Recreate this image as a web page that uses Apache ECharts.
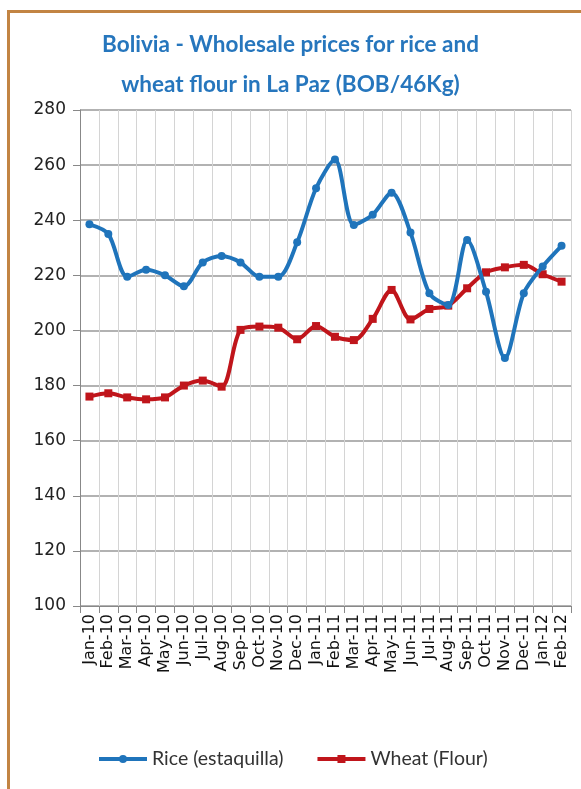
<!DOCTYPE html>
<html>
<head>
<meta charset="utf-8">
<script src="https://cdn.jsdelivr.net/npm/echarts@6/dist/echarts.min.js"></script>
<style>
html, body { margin: 0; padding: 0; background: #fff; }
#frame {
  position: absolute; left: 7px; top: 10px; width: 700px; height: 900px;
  border-left: 3px solid #c28443; border-top: 3px solid #c28443;
}
#main { position: absolute; left: 0; top: 0; width: 581px; height: 789px; }
</style>
</head>
<body>
<div id="frame"></div>
<div id="main"></div>
<script>
var months = ["Jan-10", "Feb-10", "Mar-10", "Apr-10", "May-10", "Jun-10", "Jul-10", "Aug-10", "Sep-10",
  "Oct-10", "Nov-10", "Dec-10", "Jan-11", "Feb-11", "Mar-11", "Apr-11", "May-11", "Jun-11", "Jul-11",
  "Aug-11", "Sep-11", "Oct-11", "Nov-11", "Dec-11", "Jan-12", "Feb-12"];
// rice (estaquilla), BOB/46Kg
var rice = [238.5, 235, 219.5, 222, 220, 216, 224.7, 227, 224.7, 219.5, 219.5, 232, 251.6, 262,
  238.3, 242, 250, 235.5, 213.5, 209.2, 232.8, 214, 190, 213.5, 223.2, 230.7];
// wheat flour
var wheat = [176, 177.2, 175.7, 175, 175.7, 180, 181.8, 179.6, 200.2, 201.4, 201, 196.8, 201.6,
  197.7, 196.5, 204.2, 214.7, 204, 207.8, 209, 215.3, 221.1, 222.9, 223.8, 220.4, 217.7];

var chart = echarts.init(document.getElementById("main"));
chart.setOption({
  animation: false,
  title: {
    text: "Bolivia - Wholesale prices for rice and\nwheat flour in La Paz (BOB/46Kg)",
    left: "center",
    top: 20,
    textStyle: {
      color: "#2676bd", fontSize: 22.5, fontWeight: "bold", fontFamily: "Lato",
      lineHeight: 40
    }
  },
  legend: {
    bottom: 15,
    left: 92,
    itemGap: 32,
    itemWidth: 48,
    itemHeight: 10,
    textStyle: { fontSize: 19.5, color: "#333", fontFamily: "Lato" },
    lineStyle: { width: 4 },
    data: ["Rice (estaquilla)", "Wheat (Flour)"]
  },
  grid: { left: 80, right: 10, top: 110, bottom: 183 },
  xAxis: {
    type: "category",
    data: months,
    boundaryGap: true,
    axisLine: { lineStyle: { color: "#888" } },
    axisTick: { show: true, length: 7, lineStyle: { color: "#888" } },
    axisLabel: { interval: 0, rotate: 90, fontSize: 16, color: "#111", fontFamily: "DejaVu Sans", margin: 8 },
    splitLine: { show: true, interval: 0, lineStyle: { color: "#d4d4d4" } }
  },
  yAxis: {
    type: "value",
    min: 100, max: 280, interval: 20,
    axisLine: { show: true, lineStyle: { color: "#888" } },
    axisTick: { show: true, length: 7, lineStyle: { color: "#888" } },
    axisLabel: { fontSize: 17, color: "#222", fontFamily: "DejaVu Sans", margin: 14 },
    splitLine: { lineStyle: { color: "#999", width: 1.5 } }
  },
  series: [
    {
      name: "Rice (estaquilla)",
      type: "line",
      data: rice,
      smooth: 0.3,
      symbol: "circle",
      symbolSize: 8,
      lineStyle: { width: 4, color: "#1f74bb" },
      itemStyle: { color: "#1f74bb" },
      z: 3
    },
    {
      name: "Wheat (Flour)",
      type: "line",
      data: wheat,
      smooth: 0.3,
      symbol: "rect",
      symbolSize: 8,
      lineStyle: { width: 4, color: "#c0151b" },
      itemStyle: { color: "#c0151b" },
      z: 2
    }
  ]
});
</script>
</body>
</html>
